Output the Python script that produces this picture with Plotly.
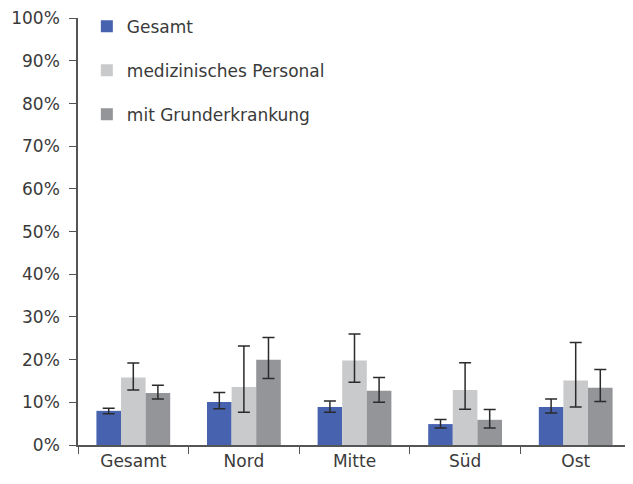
import plotly.graph_objects as go

categories = ["Gesamt", "Nord", "Mitte", "Süd", "Ost"]
series_names = ["Gesamt", "medizinisches Personal", "mit Grunderkrankung"]

gesamt = [8.0, 10.1, 8.9, 4.9, 8.9]
gesamt_hi = [8.6, 12.3, 10.3, 6.0, 10.8]
gesamt_lo = [7.3, 8.5, 7.7, 4.0, 7.5]

med = [15.8, 13.6, 19.8, 12.9, 15.1]
med_hi = [19.2, 23.2, 26.0, 19.3, 24.0]
med_lo = [12.9, 7.7, 14.7, 8.4, 8.9]

grund = [12.2, 20.0, 12.7, 5.9, 13.4]
grund_hi = [14.0, 25.2, 15.8, 8.3, 17.7]
grund_lo = [10.75, 15.6, 10.0, 4.0, 10.2]

colors = ["#4762AE", "#C9CACC", "#939598"]
text_color = "#3a3a3a"
font_family = "DejaVu Sans"

fig = go.Figure()
for i, (name, v, hi, lo) in enumerate([
    (series_names[0], gesamt, gesamt_hi, gesamt_lo),
    (series_names[1], med, med_hi, med_lo),
    (series_names[2], grund, grund_hi, grund_lo),
]):
    fig.add_trace(go.Bar(
        name=name,
        x=categories,
        y=[a / 100 for a in v],
        marker=dict(color=colors[i], line=dict(width=0)),
        legendgroup=name,
        error_y=dict(
            type="data",
            symmetric=False,
            array=[(h - a) / 100 for h, a in zip(hi, v)],
            arrayminus=[(a - l) / 100 for a, l in zip(v, lo)],
            color="#2b2b2b",
            thickness=1.5,
            width=6,
        ),
    ))

fig.update_layout(
    width=625,
    height=476,
    margin=dict(l=70, r=2, t=10, b=39, autoexpand=False),
    paper_bgcolor="white",
    plot_bgcolor="white",
    barmode="group",
    bargap=0.333,
    bargroupgap=0,
    font=dict(family=font_family, size=17, color=text_color),
    legend=dict(
        x=0.016, y=1.022, xanchor="left", yanchor="top",
        bgcolor="rgba(0,0,0,0)",
        tracegroupgap=19,
        itemwidth=30,
        font=dict(family=font_family, size=17, color=text_color),
    ),
    xaxis=dict(
        showline=True, linecolor="#555555", linewidth=1.5,
        ticks="outside", tickson="boundaries", ticklen=7,
        tickcolor="#555555", tickwidth=1.3,
        showgrid=False, automargin=False,
    ),
    yaxis=dict(
        range=[0, 1.0005], tick0=0, dtick=0.1, tickformat=".0%",
        showline=True, linecolor="#555555", linewidth=1.5,
        ticks="outside", ticklen=7, tickcolor="#555555", tickwidth=1.3,
        showgrid=False, zeroline=False, automargin=False,
        ticklabelstandoff=6, ticklabeloverflow="allow",
    ),
)

fig.write_html("out.html")
